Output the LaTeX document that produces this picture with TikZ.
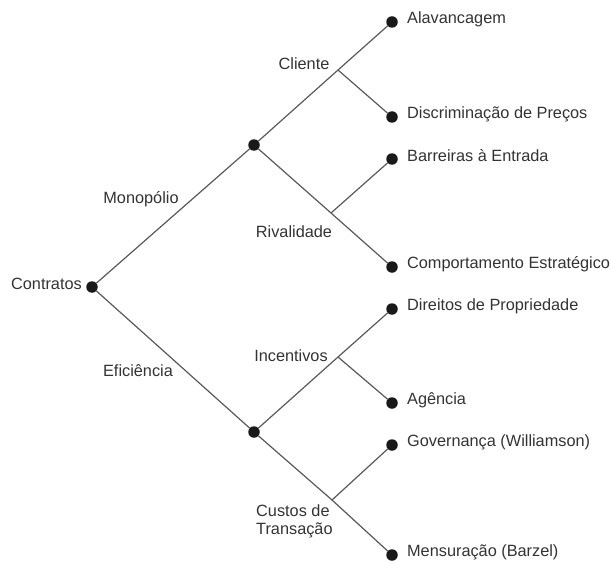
\documentclass[tikz,border=0pt]{standalone}
\usepackage{fontspec}
\setmainfont{Liberation Sans}
\usetikzlibrary{positioning}
\tikzset{
  ponto/.style={circle,fill=black!90,inner sep=0pt,minimum size=11.5pt},
  ramo/.style={draw=black!65,line width=1.2pt},
  texto/.style={inner sep=0pt,text=black!80,font=\fontsize{16.3}{18}\selectfont},
  folha/.style={texto,right=9pt of #1,yshift=3pt},
}
\begin{document}
\begin{tikzpicture}[x=1pt,y=-1pt]
    \useasboundingbox (0,0) rectangle (610,567);

    % Raiz
    \node[ponto] (contratos) at (92,287) {};
    \node[texto,anchor=east] (tcontratos) at (82,284) {Contratos};

    % Monopólio
    \node[ponto] (monopolio) at (254,145) {};
    \node[texto] (tmonopolio) at (141,199) {Monopólio};
    \coordinate (cliente) at (338,70);
    \coordinate (rivalidade) at (331,213);
    \node[texto] (tcliente) at (304,64) {Cliente};
    \node[texto] (trivalidade) at (294,232) {Rivalidade};

    \node[ponto] (alav) at (392,22) {};
    \node[ponto] (disc) at (392,117) {};
    \node[ponto] (barr) at (392,159) {};
    \node[ponto] (comp) at (392,267) {};
    \node[folha=alav] (talav) {Alavancagem};
    \node[folha=disc] (tdisc) {Discriminação de Preços};
    \node[folha=barr] (tbarr) {Barreiras à Entrada};
    \node[folha=comp] (tcomp) {Comportamento Estratégico};

    % Eficiência
    \node[ponto] (eficiencia) at (254,432) {};
    \node[texto] (teficiencia) at (138,371) {Eficiência};
    \coordinate (incentivos) at (338,357);
    \coordinate (custos) at (332,500);
    \node[texto] (tincentivos) at (291,356) {Incentivos};
    \node[texto,anchor=west,align=left] (tcustos) at (256,521) {Custos de\\Transação};

    \node[ponto] (dir) at (392,309) {};
    \node[ponto] (agen) at (392,403) {};
    \node[ponto] (gov) at (392,445) {};
    \node[ponto] (mens) at (392,555) {};
    \node[folha=dir] (tdir) {Direitos de Propriedade};
    \node[folha=agen] (tagen) {Agência};
    \node[folha=gov] (tgov) {Governança (Williamson)};
    \node[folha=mens] (tmens) {Mensuração (Barzel)};

    % Ramos
    \draw[ramo] (contratos) -- (monopolio);
    \draw[ramo] (contratos) -- (eficiencia);
    \draw[ramo] (monopolio) -- (cliente) -- (alav);
    \draw[ramo] (cliente) -- (disc);
    \draw[ramo] (monopolio) -- (rivalidade) -- (comp);
    \draw[ramo] (rivalidade) -- (barr);
    \draw[ramo] (eficiencia) -- (incentivos) -- (dir);
    \draw[ramo] (incentivos) -- (agen);
    \draw[ramo] (eficiencia) -- (custos) -- (mens);
    \draw[ramo] (custos) -- (gov);
\end{tikzpicture}
\end{document}
